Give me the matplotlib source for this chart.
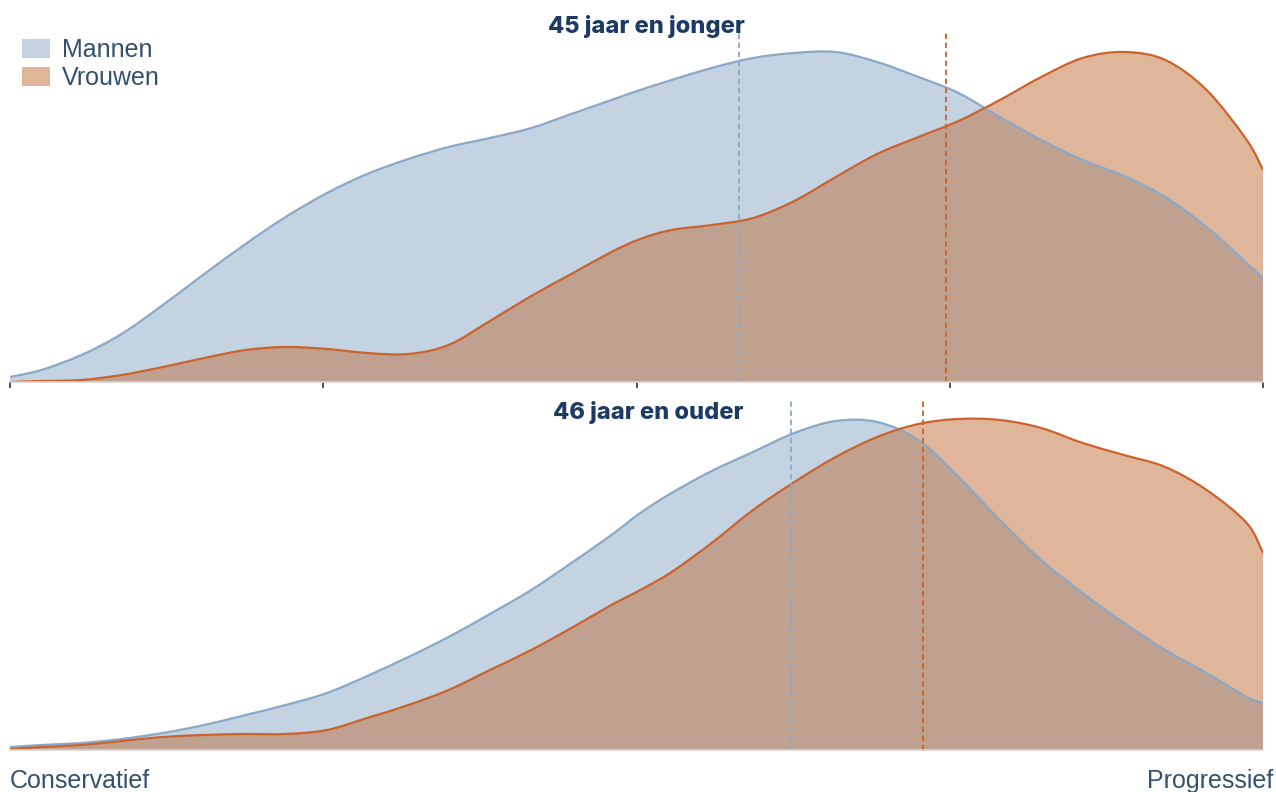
import matplotlib.pyplot as plt
from matplotlib.patches import Patch, PathPatch
from matplotlib.path import Path
import numpy as np

# positie op de as: 0 = Conservatief, 100 = Progressief
x = [0, 2.5, 5.7, 8.9, 12.2, 15.5, 18.8, 22.0, 25.3, 28.5, 31.8, 35.0, 38.3, 41.6, 44.8,
     48.0, 50.3, 52.8, 56.0, 59.3, 62.6, 65.9, 69.2, 72.5, 75.7, 79.0, 82.3, 85.6, 88.9,
     92.2, 95.5, 98.7, 100]

# 45 jaar en jonger
jong_mannen = [0.05, 0.12, 0.27, 0.48, 0.77, 1.08, 1.38, 1.65, 1.89, 2.08, 2.23, 2.35, 2.44,
               2.54, 2.68, 2.82, 2.92, 3.02, 3.14, 3.24, 3.29, 3.30, 3.20, 3.05, 2.89, 2.65,
               2.42, 2.22, 2.06, 1.85, 1.55, 1.19, 1.04]
jong_vrouwen = [0.00, 0.01, 0.02, 0.07, 0.15, 0.24, 0.32, 0.35, 0.33, 0.29, 0.28, 0.37, 0.61,
                0.86, 1.08, 1.30, 1.43, 1.52, 1.57, 1.64, 1.81, 2.05, 2.28, 2.45, 2.61, 2.82,
                3.05, 3.24, 3.30, 3.22, 2.92, 2.42, 2.12]
# 46 jaar en ouder
oud_mannen = [0.03, 0.05, 0.07, 0.11, 0.17, 0.25, 0.35, 0.45, 0.57, 0.74, 0.93, 1.13, 1.36,
              1.60, 1.87, 2.15, 2.37, 2.57, 2.79, 2.98, 3.17, 3.29, 3.28, 3.10, 2.73, 2.30,
              1.90, 1.57, 1.27, 1.00, 0.77, 0.53, 0.47]
oud_vrouwen = [0.01, 0.03, 0.05, 0.09, 0.13, 0.15, 0.16, 0.16, 0.20, 0.32, 0.45, 0.60, 0.80,
               1.00, 1.22, 1.45, 1.60, 1.78, 2.07, 2.40, 2.68, 2.93, 3.13, 3.26, 3.31, 3.30,
               3.22, 3.07, 2.95, 2.83, 2.60, 2.27, 1.97]

gemiddelde = {'jong': (58.2, 74.7), 'oud': (62.3, 72.9)}
titels = {'jong': '45 jaar en jonger', 'oud': '46 jaar en ouder'}

blauw_vlak = '#c4d3e1'
blauw_lijn = '#8aa8c8'
oranje_vlak = '#e0b69b'
oranje_lijn = '#cc622d'
overlap = '#c0a08f'
navy = '#1c3a64'
tekst = '#34506f'


def curve(xs, ys, closed=False):
    # vloeiende lijn door de punten (catmull-rom als bezier)
    p = np.column_stack([xs, ys])
    n = len(p)
    verts = [p[0]]
    codes = [Path.MOVETO]
    for i in range(n - 1):
        p0 = p[max(i - 1, 0)]
        p1 = p[i]
        p2 = p[i + 1]
        p3 = p[min(i + 2, n - 1)]
        verts += [p1 + (p2 - p0) / 6, p2 - (p3 - p1) / 6, p2]
        codes += [Path.CURVE4] * 3
    if closed:
        verts += [(xs[-1], 0), (xs[0], 0), (xs[0], 0)]
        codes += [Path.LINETO, Path.LINETO, Path.CLOSEPOLY]
    return Path(verts, codes)


fig = plt.figure(figsize=(12.76, 7.92), dpi=100)
ax1 = fig.add_axes([10/1276, 1-382/792, 1253/1276, 352/792])
ax2 = fig.add_axes([10/1276, 1-750/792, 1253/1276, 350/792])

for ax, key, man, vrouw, ytop in [(ax1, 'jong', jong_mannen, jong_vrouwen, 3.52),
                                  (ax2, 'oud', oud_mannen, oud_vrouwen, 3.50)]:
    blauw = PathPatch(curve(x, man, True), facecolor=blauw_vlak, lw=0)
    ax.add_patch(blauw)
    ax.add_patch(PathPatch(curve(x, vrouw, True), facecolor=oranje_vlak, lw=0))
    ov = PathPatch(curve(x, vrouw, True), facecolor=overlap, lw=0)
    ax.add_patch(ov)
    ov.set_clip_path(blauw)
    ax.add_patch(PathPatch(curve(x, man), facecolor='none', edgecolor=blauw_lijn, lw=1.6))
    ax.add_patch(PathPatch(curve(x, vrouw), facecolor='none', edgecolor=oranje_lijn, lw=1.6))
    gm, gv = gemiddelde[key]
    ax.axvline(gm, color=blauw_lijn, lw=1.3, ls=(0, (3, 2)))
    ax.axvline(gv, color=oranje_lijn, lw=1.3, ls=(0, (3, 2)))
    ax.set_xlim(0, 100)
    ax.set_ylim(0, ytop)
    ax.set_yticks([])
    for s in ['top', 'left', 'right']:
        ax.spines[s].set_visible(False)
    ax.spines['bottom'].set_color('#d4d4d4')
    ax.spines['bottom'].set_linewidth(1.2)
    ax.set_facecolor('none')

ax1.set_xticks([0, 25, 50, 75, 100])
ax1.set_xticklabels([])
ax1.tick_params(axis='x', length=4, width=1.2, color='#333333', direction='out')
ax2.set_xticks([])

fig.text(646/1276, 1-26/792, titels['jong'], ha='center', va='center',
         fontsize=17, fontweight='heavy', color=navy, family='Inter')
fig.text(648/1276, 1-412/792, titels['oud'], ha='center', va='center',
         fontsize=17, fontweight='heavy', color=navy, family='Inter')

fig.text(10/1276, 1-788/792, 'Conservatief', ha='left', va='baseline',
         fontsize=18, color=tekst, family='Liberation Sans')
fig.text(1273/1276, 1-788/792, 'Progressief', ha='right', va='baseline',
         fontsize=18, color=tekst, family='Liberation Sans')

handles = [Patch(facecolor=blauw_vlak, edgecolor='none', label='Mannen'),
           Patch(facecolor=oranje_vlak, edgecolor='none', label='Vrouwen')]
fig.legend(handles=handles, loc='upper left', bbox_to_anchor=(12/1276, 1-28/792),
           frameon=False, prop={'family': 'Liberation Sans', 'size': 18},
           labelcolor=tekst, handlelength=1.1, handleheight=0.8,
           handletextpad=0.5, labelspacing=0.15, borderaxespad=0)

fig.savefig('out.png', dpi=100)
